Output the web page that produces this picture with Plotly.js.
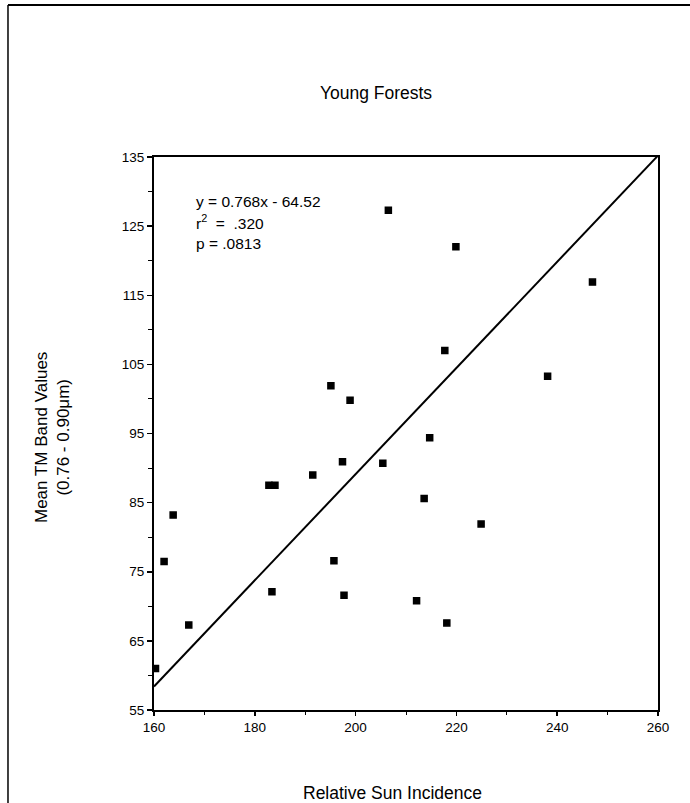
<!DOCTYPE html>
<html>
<head>
<meta charset="utf-8">
<script src="https://cdn.plot.ly/plotly-3.0.1.min.js"></script>
<style>html,body{margin:0;padding:0;background:#fff;}#chart{width:690px;height:803px;}</style>
</head>
<body>
<div id="chart"></div>
<script>
// Relative Sun Incidence (x) and Mean TM Band Values (y)
const sunIncidence = [160.3, 162.0, 163.8, 166.9, 182.8, 184.0, 183.4, 191.5, 195.1, 195.7, 197.4, 197.7, 198.9, 205.4, 206.5, 212.1, 213.6, 214.7, 217.7, 218.1, 219.9, 224.9, 238.1, 247.0];
const bandValues   = [61.0, 76.5, 83.2, 67.3, 87.5, 87.5, 72.1, 89.0, 101.9, 76.6, 90.9, 71.6, 99.8, 90.7, 127.3, 70.8, 85.6, 94.4, 107.0, 67.6, 122.0, 81.9, 103.3, 116.9];
// Regression line end points
const fitX = [160, 260];
const fitY = [58.4, 135.2];
const yTicks = [55, 65, 75, 85, 95, 105, 115, 125, 135];
const xTicks = [160, 180, 200, 220, 240, 260];
const statLines = ["y = 0.768x - 64.52", "r<sup>2</sup>  =  .320", "p = .0813"];

const fam = "Liberation Sans, Arial, sans-serif";
const tickFont = {family: fam, color: "#000", size: 13.5};
const statFont = {family: fam, color: "#000", size: 15.5};
const titleFont = {family: fam, color: "#000", size: 17.5};
const yTitleFont = {family: fam, color: "#000", size: 17};

const traces = [
  {x: fitX, y: fitY, mode: "lines", line: {color: "#000", width: 2}, hoverinfo: "skip"},
  {x: sunIncidence, y: bandValues, mode: "markers",
   marker: {symbol: "square", size: 6, color: "#000", line: {color: "#000", width: 1.5}}}
];

const statY = [0.920, 0.882, 0.844];
const annotations = statLines.map((t, i) => ({
  text: t, xref: "paper", yref: "paper", x: 0.079, y: statY[i],
  xanchor: "left", yanchor: "middle", showarrow: false, font: statFont
}));
// axis titles
annotations.push({
  text: "Relative Sun Incidence", xref: "paper", yref: "paper",
  x: (392 - 154) / 504, y: (710 - 793) / 553, xanchor: "center", yanchor: "middle",
  showarrow: false, font: titleFont
});
annotations.push({
  text: "Mean TM Band Values<br>(0.76 - 0.90μm)", xref: "paper", yref: "paper",
  x: (52 - 154) / 504, y: (710 - 438) / 553, xanchor: "center", yanchor: "middle",
  textangle: -90, showarrow: false, font: yTitleFont
});

const layout = {
  width: 690, height: 803,
  margin: {l: 154, r: 32, t: 157, b: 93},
  paper_bgcolor: "#fff", plot_bgcolor: "#fff",
  showlegend: false,
  font: tickFont,
  title: {text: "Young Forests", x: 376/690, xanchor: "center", y: 1 - 93/803, yanchor: "middle", font: titleFont},
  xaxis: {
    range: [160, 260], tickvals: xTicks, ticktext: xTicks.map(String),
    showgrid: false, zeroline: false, showline: true, linecolor: "#000", linewidth: 2, mirror: true,
    ticks: "outside", ticklen: 4, tickwidth: 1.5, tickcolor: "#000",
    minor: {dtick: 10, tick0: 160, ticks: "outside", ticklen: 3, tickwidth: 1, tickcolor: "#000", showgrid: false},
    tickfont: tickFont
  },
  yaxis: {
    range: [55, 135], tickvals: yTicks, ticktext: yTicks.map(String),
    showgrid: false, zeroline: false, showline: true, linecolor: "#000", linewidth: 2, mirror: true,
    ticks: "outside", ticklen: 5, tickwidth: 1.5, tickcolor: "#000",
    minor: {dtick: 5, tick0: 55, ticks: "outside", ticklen: 4, tickwidth: 1, tickcolor: "#000", showgrid: false},
    tickfont: tickFont
  },
  annotations: annotations,
  shapes: [
    {type: "line", xref: "paper", yref: "paper", x0: -0.2897, x1: 1.1, y0: 1.2749, y1: 1.2749, line: {color: "#000", width: 2}},
    {type: "line", xref: "paper", yref: "paper", x0: -0.2897, x1: -0.2897, y0: 1.2749, y1: -0.17, line: {color: "#000", width: 1.5}}
  ]
};

Plotly.newPlot("chart", traces, layout, {displayModeBar: false, staticPlot: true});
</script>
</body>
</html>
